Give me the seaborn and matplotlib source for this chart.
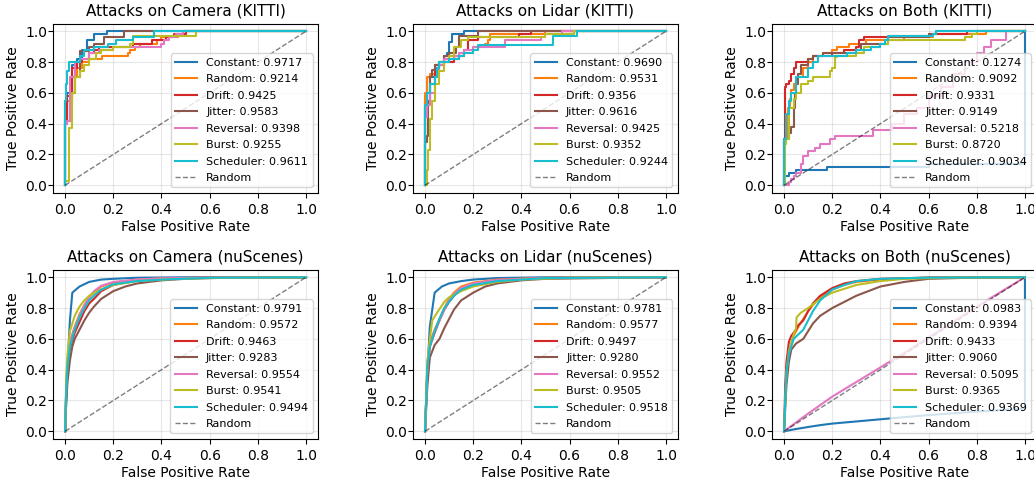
import pandas as pd
import seaborn as sns
import matplotlib
matplotlib.use("Agg")
import matplotlib.pyplot as plt


attacks = ["Constant", "Random", "Drift", "Jitter", "Reversal", "Burst", "Scheduler"]
titles = ["Attacks on Camera (KITTI)", "Attacks on Lidar (KITTI)", "Attacks on Both (KITTI)",
          "Attacks on Camera (nuScenes)", "Attacks on Lidar (nuScenes)", "Attacks on Both (nuScenes)"]

auc_cam_kitti = [0.9717, 0.9214, 0.9425, 0.9583, 0.9398, 0.9255, 0.9611]
auc_lidar_kitti = [0.9690, 0.9531, 0.9356, 0.9616, 0.9425, 0.9352, 0.9244]
auc_both_kitti = [0.1274, 0.9092, 0.9331, 0.9149, 0.5218, 0.8720, 0.9034]
auc_cam_nusc = [0.9791, 0.9572, 0.9463, 0.9283, 0.9554, 0.9541, 0.9494]
auc_lidar_nusc = [0.9781, 0.9577, 0.9497, 0.9280, 0.9552, 0.9505, 0.9518]
auc_both_nusc = [0.0983, 0.9394, 0.9433, 0.9060, 0.5095, 0.9365, 0.9369]

# KITTI curves: (fpr where tpr jumps, tpr after jump)
roc_cam_kitti = {
    "Constant": [(0, 0), (0, 0.55), (0.01, 0.6), (0.03, 0.78), (0.05, 0.82), (0.07, 0.88), (0.09, 0.94),
                 (0.12, 0.98), (0.175, 1.0), (1, 1)],
    "Random": [(0, 0), (0, 0.45), (0.01, 0.55), (0.03, 0.7), (0.05, 0.76), (0.07, 0.8), (0.1, 0.82),
               (0.155, 0.84), (0.26, 0.86), (0.27, 0.88), (0.29, 0.9), (0.31, 0.92), (0.38, 0.94),
               (0.4, 0.96), (0.47, 0.98), (0.5, 1.0), (1, 1)],
    "Drift": [(0, 0), (0, 0.4), (0.01, 0.58), (0.03, 0.76), (0.05, 0.8), (0.07, 0.82), (0.1, 0.86),
              (0.12, 0.88), (0.14, 0.9), (0.28, 0.92), (0.36, 0.94), (0.42, 0.96), (0.45, 0.98),
              (0.5, 1.0), (1, 1)],
    "Jitter": [(0, 0), (0, 0.42), (0.02, 0.55), (0.03, 0.6), (0.04, 0.7), (0.06, 0.87), (0.1, 0.9),
               (0.12, 0.92), (0.16, 0.96), (0.245, 1.0), (1, 1)],
    "Reversal": [(0, 0), (0, 0.4), (0.01, 0.42), (0.02, 0.7), (0.04, 0.8), (0.06, 0.82), (0.1, 0.86),
                 (0.14, 0.88), (0.2, 0.9), (0.4, 0.92), (0.41, 0.94), (0.43, 0.96), (0.46, 0.98),
                 (0.49, 1.0), (1, 1)],
    "Burst": [(0, 0), (0, 0.03), (0.018, 0.37), (0.03, 0.6), (0.04, 0.7), (0.06, 0.74), (0.08, 0.78),
              (0.1, 0.82), (0.13, 0.86), (0.15, 0.88), (0.2, 0.9), (0.27, 0.92), (0.28, 0.97),
              (0.545, 1.0), (1, 1)],
    "Scheduler": [(0, 0), (0, 0.55), (0.003, 0.66), (0.01, 0.74), (0.015, 0.8), (0.06, 0.84),
                  (0.08, 0.88), (0.12, 0.9), (0.18, 0.92), (0.21, 0.94), (0.28, 0.96), (0.37, 1.0), (1, 1)],
}

roc_lidar_kitti = {
    "Constant": [(0, 0), (0, 0.55), (0.01, 0.6), (0.02, 0.7), (0.04, 0.76), (0.06, 0.8), (0.08, 0.84),
                 (0.09, 0.86), (0.1, 0.93), (0.11, 0.98), (0.16, 1.0), (1, 1)],
    "Random": [(0, 0), (0, 0.6), (0.01, 0.7), (0.02, 0.72), (0.04, 0.78), (0.08, 0.82), (0.12, 0.84),
               (0.16, 0.86), (0.2, 0.88), (0.22, 0.9), (0.25, 0.92), (0.26, 0.94), (0.27, 0.985),
               (0.5, 1.0), (1, 1)],
    "Drift": [(0, 0), (0, 0.5), (0.01, 0.55), (0.02, 0.66), (0.04, 0.74), (0.06, 0.78), (0.08, 0.8),
              (0.12, 0.82), (0.14, 0.84), (0.16, 0.88), (0.18, 0.94), (0.22, 0.96), (0.39, 0.98),
              (0.44, 1.0), (1, 1)],
    "Jitter": [(0, 0), (0, 0.28), (0.01, 0.32), (0.012, 0.55), (0.02, 0.7), (0.03, 0.75), (0.04, 0.78),
               (0.06, 0.8), (0.08, 0.84), (0.1, 0.86), (0.13, 0.9), (0.14, 0.97), (0.22, 1.0), (1, 1)],
    "Reversal": [(0, 0), (0, 0.44), (0.01, 0.52), (0.02, 0.6), (0.04, 0.7), (0.06, 0.78), (0.08, 0.82),
                 (0.12, 0.84), (0.14, 0.86), (0.16, 0.88), (0.2, 0.9), (0.33, 0.94), (0.48, 0.96),
                 (0.5, 0.98), (0.57, 1.0), (1, 1)],
    "Burst": [(0, 0), (0.01, 0.1), (0.012, 0.23), (0.02, 0.43), (0.03, 0.55), (0.04, 0.66), (0.06, 0.74),
              (0.08, 0.8), (0.1, 0.84), (0.12, 0.9), (0.15, 0.94), (0.18, 0.96), (0.5, 0.98),
              (0.62, 1.0), (1, 1)],
    "Scheduler": [(0, 0), (0, 0.52), (0.01, 0.6), (0.02, 0.66), (0.04, 0.7), (0.05, 0.76), (0.06, 0.8),
                  (0.1, 0.82), (0.14, 0.84), (0.16, 0.86), (0.2, 0.88), (0.22, 0.91), (0.53, 0.97),
                  (0.63, 1.0), (1, 1)],
}

roc_both_kitti = {
    "Constant": [(0, 0), (0, 0.06), (0.02, 0.08), (0.05, 0.1), (0.18, 0.12), (0.6, 0.14), (1, 1)],
    "Random": [(0, 0), (0, 0.28), (0.01, 0.3), (0.015, 0.5), (0.025, 0.56), (0.03, 0.62), (0.04, 0.66),
               (0.05, 0.7), (0.08, 0.76), (0.1, 0.8), (0.12, 0.84), (0.16, 0.86), (0.2, 0.88),
               (0.22, 0.9), (0.27, 0.92), (0.34, 0.94), (0.5, 0.96), (0.62, 0.98), (0.84, 1.0), (1, 1)],
    "Drift": [(0, 0), (0, 0.3), (0.005, 0.64), (0.01, 0.66), (0.02, 0.68), (0.03, 0.72), (0.04, 0.76),
              (0.05, 0.8), (0.1, 0.82), (0.12, 0.84), (0.2, 0.86), (0.25, 0.88), (0.3, 0.9),
              (0.31, 0.94), (0.33, 0.96), (0.44, 0.97), (0.6, 0.98), (0.76, 1.0), (1, 1)],
    "Jitter": [(0, 0), (0, 0.3), (0.02, 0.34), (0.03, 0.38), (0.04, 0.5), (0.045, 0.6), (0.05, 0.66),
               (0.06, 0.72), (0.07, 0.78), (0.1, 0.82), (0.12, 0.84), (0.16, 0.86), (0.3, 0.88),
               (0.32, 0.92), (0.43, 0.96), (0.6, 0.98), (0.63, 1.0), (1, 1)],
    "Reversal": [(0, 0), (0.02, 0.02), (0.03, 0.04), (0.04, 0.06), (0.05, 0.08), (0.07, 0.14),
                 (0.08, 0.19), (0.1, 0.22), (0.13, 0.24), (0.15, 0.27), (0.19, 0.3), (0.21, 0.32),
                 (0.37, 0.36), (0.45, 0.4), (0.5, 0.46), (0.55, 0.5), (0.6, 0.58), (0.65, 0.64),
                 (0.7, 0.72), (0.75, 0.8), (0.8, 0.86), (0.83, 0.9), (0.86, 0.94), (0.92, 1.0), (1, 1)],
    "Burst": [(0, 0), (0.005, 0.27), (0.01, 0.3), (0.02, 0.5), (0.04, 0.56), (0.05, 0.6), (0.07, 0.66),
              (0.1, 0.68), (0.12, 0.7), (0.19, 0.74), (0.2, 0.76), (0.21, 0.83), (0.22, 0.84),
              (0.3, 0.86), (0.33, 0.9), (0.4, 0.92), (0.43, 0.94), (0.75, 0.96), (0.78, 0.98),
              (0.8, 1.0), (1, 1)],
    "Scheduler": [(0, 0), (0, 0.3), (0.01, 0.46), (0.02, 0.55), (0.03, 0.6), (0.05, 0.7), (0.1, 0.76),
                  (0.12, 0.8), (0.14, 0.84), (0.26, 0.86), (0.3, 0.88), (0.36, 0.9), (0.4, 0.92),
                  (0.42, 0.94), (0.43, 0.97), (0.62, 0.98), (0.63, 1.0), (1, 1)],
}

# nuScenes curves: (fpr, tpr) points
roc_cam_nusc = {
    "Constant": [(0, 0), (0.01, 0.42), (0.02, 0.72), (0.03, 0.9), (0.06, 0.94), (0.1, 0.97),
                 (0.15, 0.985), (0.2, 0.99), (0.3, 0.997), (0.5, 1.0), (1, 1)],
    "Random": [(0, 0), (0.005, 0.3), (0.01, 0.45), (0.02, 0.58), (0.04, 0.68), (0.06, 0.76), (0.08, 0.82),
               (0.1, 0.87), (0.12, 0.9), (0.15, 0.94), (0.2, 0.965), (0.3, 0.985), (0.4, 0.993),
               (0.6, 0.998), (1, 1)],
    "Drift": [(0, 0), (0.005, 0.25), (0.01, 0.4), (0.02, 0.54), (0.04, 0.64), (0.06, 0.71), (0.08, 0.78),
              (0.1, 0.83), (0.12, 0.86), (0.15, 0.91), (0.2, 0.95), (0.3, 0.98), (0.4, 0.99),
              (0.6, 0.998), (1, 1)],
    "Jitter": [(0, 0), (0.005, 0.2), (0.01, 0.32), (0.02, 0.46), (0.03, 0.55), (0.04, 0.6), (0.06, 0.66),
               (0.08, 0.72), (0.1, 0.77), (0.12, 0.81), (0.15, 0.86), (0.2, 0.91), (0.25, 0.94),
               (0.3, 0.96), (0.4, 0.98), (0.5, 0.99), (0.7, 0.998), (1, 1)],
    "Reversal": [(0, 0), (0.005, 0.3), (0.01, 0.45), (0.02, 0.58), (0.04, 0.67), (0.06, 0.75),
                 (0.08, 0.82), (0.1, 0.87), (0.12, 0.91), (0.15, 0.945), (0.2, 0.97), (0.3, 0.985),
                 (0.4, 0.993), (0.6, 0.998), (1, 1)],
    "Burst": [(0, 0), (0.005, 0.35), (0.01, 0.5), (0.02, 0.65), (0.04, 0.75), (0.06, 0.81), (0.08, 0.85),
              (0.1, 0.88), (0.12, 0.9), (0.15, 0.92), (0.2, 0.95), (0.3, 0.975), (0.4, 0.985),
              (0.6, 0.996), (1, 1)],
    "Scheduler": [(0, 0), (0.005, 0.28), (0.01, 0.42), (0.02, 0.55), (0.04, 0.66), (0.06, 0.74),
                  (0.08, 0.8), (0.1, 0.85), (0.12, 0.88), (0.15, 0.92), (0.2, 0.955), (0.3, 0.975),
                  (0.4, 0.985), (0.6, 0.997), (1, 1)],
}

roc_lidar_nusc = {
    "Constant": [(0, 0), (0.01, 0.4), (0.02, 0.68), (0.04, 0.9), (0.07, 0.94), (0.1, 0.96),
                 (0.15, 0.975), (0.2, 0.985), (0.3, 0.995), (0.5, 1.0), (1, 1)],
    "Random": [(0, 0), (0.01, 0.45), (0.02, 0.58), (0.04, 0.66), (0.06, 0.73), (0.08, 0.8), (0.1, 0.86),
               (0.12, 0.9), (0.15, 0.94), (0.2, 0.965), (0.3, 0.985), (0.5, 0.997), (1, 1)],
    "Drift": [(0, 0), (0.01, 0.4), (0.02, 0.55), (0.04, 0.64), (0.06, 0.72), (0.08, 0.79), (0.1, 0.84),
              (0.12, 0.88), (0.15, 0.92), (0.2, 0.95), (0.3, 0.98), (0.5, 0.995), (1, 1)],
    "Jitter": [(0, 0), (0.01, 0.3), (0.02, 0.48), (0.04, 0.56), (0.06, 0.6), (0.08, 0.67), (0.1, 0.73),
               (0.12, 0.79), (0.15, 0.85), (0.2, 0.9), (0.25, 0.94), (0.3, 0.96), (0.4, 0.98),
               (0.5, 0.99), (1, 1)],
    "Reversal": [(0, 0), (0.01, 0.44), (0.02, 0.57), (0.04, 0.65), (0.06, 0.72), (0.08, 0.79),
                 (0.1, 0.85), (0.12, 0.89), (0.15, 0.93), (0.2, 0.96), (0.3, 0.983), (0.5, 0.996), (1, 1)],
    "Burst": [(0, 0), (0.01, 0.45), (0.02, 0.6), (0.03, 0.72), (0.05, 0.77), (0.08, 0.84), (0.1, 0.87),
              (0.15, 0.91), (0.2, 0.94), (0.3, 0.97), (0.4, 0.985), (0.6, 0.997), (1, 1)],
    "Scheduler": [(0, 0), (0.01, 0.42), (0.02, 0.55), (0.04, 0.65), (0.06, 0.73), (0.08, 0.8),
                  (0.1, 0.84), (0.12, 0.88), (0.15, 0.92), (0.2, 0.95), (0.3, 0.975), (0.5, 0.995), (1, 1)],
}

roc_both_nusc = {
    "Constant": [(0, 0), (0.05, 0.015), (0.1, 0.028), (0.15, 0.04), (0.2, 0.05), (0.3, 0.064),
                 (0.4, 0.078), (0.5, 0.092), (0.6, 0.105), (0.7, 0.117), (0.8, 0.128), (0.9, 0.138),
                 (1.0, 0.148), (1.0, 1.0)],
    "Random": [(0, 0), (0.01, 0.4), (0.02, 0.52), (0.04, 0.62), (0.06, 0.68), (0.08, 0.73), (0.1, 0.78),
               (0.12, 0.82), (0.15, 0.87), (0.2, 0.92), (0.25, 0.95), (0.3, 0.97), (0.4, 0.985),
               (0.6, 0.998), (1, 1)],
    "Drift": [(0, 0), (0.005, 0.3), (0.01, 0.45), (0.02, 0.58), (0.03, 0.62), (0.05, 0.66), (0.06, 0.69),
              (0.08, 0.72), (0.1, 0.78), (0.12, 0.83), (0.15, 0.88), (0.2, 0.93), (0.25, 0.96),
              (0.3, 0.975), (0.4, 0.99), (0.6, 0.998), (1, 1)],
    "Jitter": [(0, 0), (0.01, 0.3), (0.02, 0.45), (0.03, 0.53), (0.05, 0.57), (0.08, 0.6), (0.1, 0.65),
               (0.12, 0.7), (0.15, 0.75), (0.2, 0.8), (0.25, 0.84), (0.3, 0.88), (0.35, 0.91),
               (0.4, 0.94), (0.5, 0.97), (0.6, 0.99), (0.8, 0.998), (1, 1)],
    "Reversal": [(0, 0), (0.1, 0.115), (0.2, 0.225), (0.3, 0.32), (0.4, 0.415), (0.5, 0.51), (0.6, 0.61),
                 (0.7, 0.71), (0.8, 0.81), (0.9, 0.905), (1, 1)],
    "Burst": [(0, 0), (0.01, 0.38), (0.02, 0.52), (0.04, 0.63), (0.05, 0.67), (0.052, 0.74), (0.07, 0.77),
              (0.1, 0.8), (0.15, 0.86), (0.2, 0.9), (0.3, 0.95), (0.4, 0.975), (0.5, 0.99),
              (0.7, 0.998), (1, 1)],
    "Scheduler": [(0, 0), (0.01, 0.38), (0.02, 0.5), (0.04, 0.6), (0.06, 0.63), (0.08, 0.66), (0.1, 0.72),
                  (0.12, 0.78), (0.15, 0.85), (0.2, 0.92), (0.25, 0.95), (0.3, 0.975), (0.4, 0.99),
                  (0.6, 0.998), (1, 1)],
}

panels = [
    (roc_cam_kitti, auc_cam_kitti, "steps-post"),
    (roc_lidar_kitti, auc_lidar_kitti, "steps-post"),
    (roc_both_kitti, auc_both_kitti, "steps-post"),
    (roc_cam_nusc, auc_cam_nusc, "default"),
    (roc_lidar_nusc, auc_lidar_nusc, "default"),
    (roc_both_nusc, auc_both_nusc, "default"),
]

tab = sns.color_palette("tab10")
colors = [tab[i] for i in [0, 1, 3, 5, 6, 8, 9]]

fig = plt.figure(figsize=(10.34, 4.8), dpi=100)
lefts = [0.0513, 0.3994, 0.7466]
bottoms = [0.598, 0.0854]

for k, (roc, aucs, ds) in enumerate(panels):
    ax = fig.add_axes([lefts[k % 3], bottoms[k // 3], 0.2563, 0.353])
    for name, auc, col in zip(attacks, aucs, colors):
        df = pd.DataFrame(roc[name], columns=["fpr", "tpr"])
        sns.lineplot(data=df, x="fpr", y="tpr", color=col, lw=1.5, estimator=None, sort=False,
                     drawstyle=ds, label=f"{name}: {auc:.4f}", ax=ax)
    ax.plot([0, 1], [0, 1], "k--", lw=1, alpha=0.5, label="Random")
    ax.set_xticks([0, 0.2, 0.4, 0.6, 0.8, 1.0])
    ax.set_yticks([0, 0.2, 0.4, 0.6, 0.8, 1.0])
    ax.tick_params(labelsize=10)
    ax.tick_params(axis="y", pad=0.5)
    ax.set_xlabel("False Positive Rate", fontsize=10, labelpad=2.5)
    ax.set_ylabel("True Positive Rate", fontsize=10)
    ax.set_title(titles[k], fontsize=11)
    ax.grid(True, alpha=0.3)
    ax.legend(loc="lower right", fontsize=8, labelspacing=0.58)

fig.savefig("out.png", dpi=100)
